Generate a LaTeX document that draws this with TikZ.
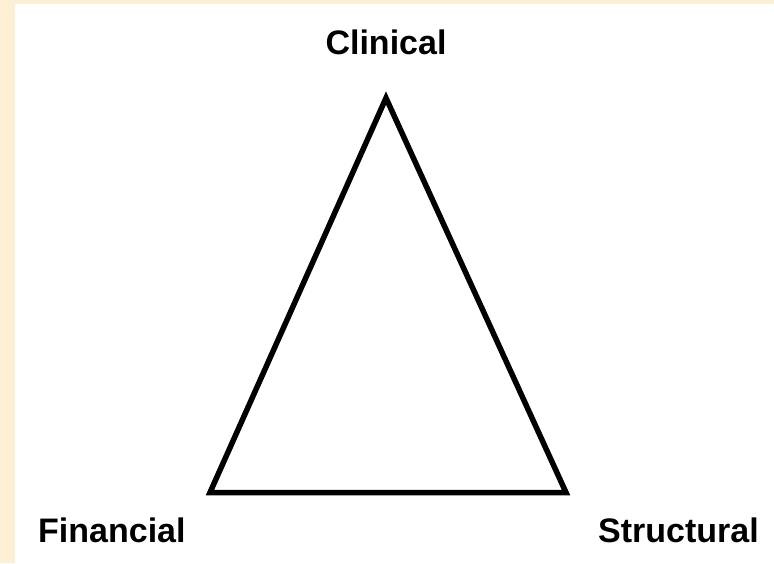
\documentclass[tikz,border=0pt]{standalone}
\usepackage{fontspec}
\setmainfont{Liberation Sans}
\usetikzlibrary{positioning}
\definecolor{parchment}{HTML}{FCEFD3}
\tikzset{label/.style = {font = \bfseries\fontsize{34}{40}\selectfont, inner sep = 0}}
\tikzset{side/.style = {line width = 5.5pt, line join = miter}}

\begin{document}
\begin{tikzpicture}[x = 1pt, y = 1pt]
      \fill [parchment] (0, 0) rectangle (774, 563);
      \fill [white] (15, 0) rectangle (774, 559);
      \useasboundingbox (0, 0) rectangle (774, 563);
      \coordinate (clin) at (386, 465);
      \coordinate (fin) at (210, 70.5);
      \coordinate (str) at (566, 70.5);
      \draw [side] (clin) -- (fin) -- (str) -- cycle;
      \node [label, anchor = base] (clinical) at (386, 508) {Clinical};
      \node [label, anchor = base west] (financial) at (38, 21) {Financial};
      \node [label, anchor = base west] (structural) at (598, 21) {Structural};
    \end{tikzpicture}
\end{document}
